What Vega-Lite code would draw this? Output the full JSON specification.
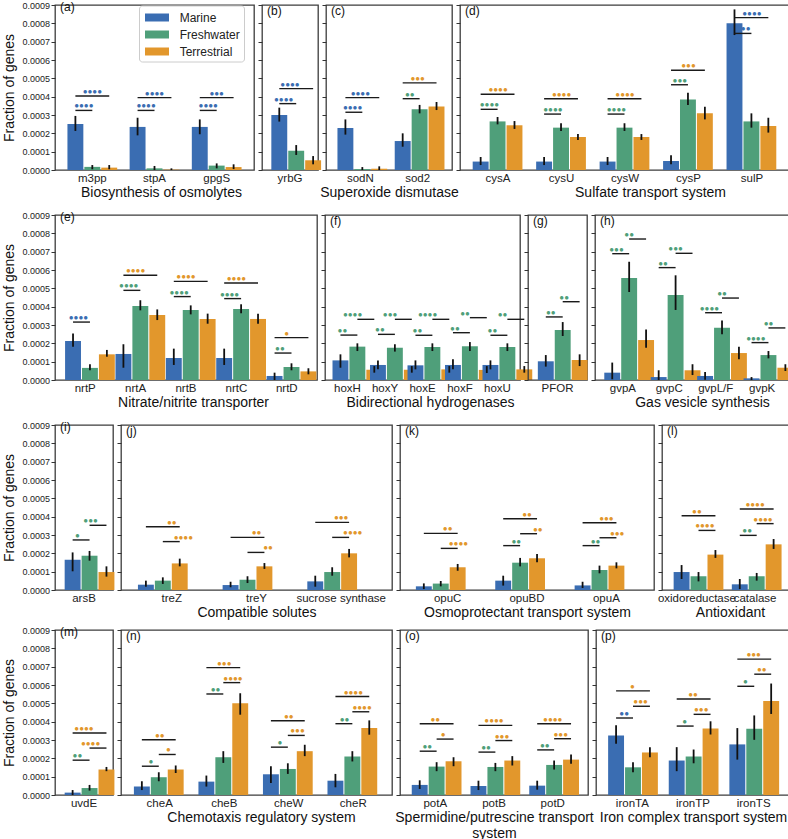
{
"$schema":"https://vega.github.io/schema/vega-lite/v6.json",
"padding":{"left":2,"top":0,"right":1,"bottom":0},
"spacing":5,
"resolve":{"legend":{"color":"independent"}},
"config":{
 "font":"Liberation Sans",
 "view":{"stroke":"#3c3c3c","strokeWidth":1.3},
 "scale":{"bandPaddingInner":0.22,"bandPaddingOuter":0.11,"offsetBandPaddingInner":0.06,"offsetBandPaddingOuter":0},
 "axis":{"grid":false,"domain":false,"labelColor":"#222","titleColor":"#111","titleFontWeight":"normal","tickColor":"#333"},
 "axisX":{"ticks":false,"tickSize":0,"labelAngle":0,"labelFontSize":11.5,"labelPadding":2,"titleFontSize":14,"titlePadding":1.5,"labelOverlap":false,"labelLimit":0},
 "axisY":{"tickCount":10,"tickSize":4,"labelFontSize":9,"labelPadding":1.5,"titleFontSize":14,"titlePadding":5},
 "title":{"anchor":"start","frame":"group","offset":-13,"dx":5,"fontSize":12,"fontWeight":"normal","baseline":"alphabetic","color":"#111"},
 "rule":{"color":"#111","strokeWidth":1.8},
 "line":{"color":"#1a1a1a","strokeWidth":1.4},
 "text":{"font":"Liberation Sans","fontSize":8,"baseline":"bottom"}
},
"datasets":{
"bars":[
{"p":"a","gene":"m3pp","g":"Marine","y":0.000251,"lo":0.000213,"hi":0.000295},
{"p":"a","gene":"m3pp","g":"Freshwater","y":0.000017,"lo":0.000004,"hi":0.000027},
{"p":"a","gene":"m3pp","g":"Terrestrial","y":0.000013,"lo":0.000004,"hi":0.000027},
{"p":"a","gene":"stpA","g":"Marine","y":0.000235,"lo":0.000189,"hi":0.000285},
{"p":"a","gene":"stpA","g":"Freshwater","y":0.000009,"lo":0,"hi":0.000022},
{"p":"a","gene":"stpA","g":"Terrestrial","y":0.000002,"lo":0,"hi":0.000009},
{"p":"a","gene":"gpgS","g":"Marine","y":0.000235,"lo":0.000195,"hi":0.000276},
{"p":"a","gene":"gpgS","g":"Freshwater","y":0.000024,"lo":0.000009,"hi":0.000036},
{"p":"a","gene":"gpgS","g":"Terrestrial","y":0.000016,"lo":0.000005,"hi":0.000031},
{"p":"b","gene":"yrbG","g":"Marine","y":0.000300,"lo":0.000264,"hi":0.000340},
{"p":"b","gene":"yrbG","g":"Freshwater","y":0.000105,"lo":0.000082,"hi":0.000136},
{"p":"b","gene":"yrbG","g":"Terrestrial","y":0.000053,"lo":0.000031,"hi":0.000076},
{"p":"c","gene":"sodN","g":"Marine","y":0.000229,"lo":0.000193,"hi":0.000276},
{"p":"c","gene":"sodN","g":"Freshwater","y":0.000005,"lo":0,"hi":0.000016},
{"p":"c","gene":"sodN","g":"Terrestrial","y":0.000007,"lo":0,"hi":0.000020},
{"p":"c","gene":"sod2","g":"Marine","y":0.000158,"lo":0.000127,"hi":0.000200},
{"p":"c","gene":"sod2","g":"Freshwater","y":0.000331,"lo":0.000309,"hi":0.000355},
{"p":"c","gene":"sod2","g":"Terrestrial","y":0.000347,"lo":0.000327,"hi":0.000371},
{"p":"d","gene":"cysA","g":"Marine","y":0.000046,"lo":0.000027,"hi":0.000071},
{"p":"d","gene":"cysA","g":"Freshwater","y":0.000265,"lo":0.000249,"hi":0.000289},
{"p":"d","gene":"cysA","g":"Terrestrial","y":0.000244,"lo":0.000224,"hi":0.000267},
{"p":"d","gene":"cysU","g":"Marine","y":0.000046,"lo":0.000027,"hi":0.000071},
{"p":"d","gene":"cysU","g":"Freshwater","y":0.000231,"lo":0.000213,"hi":0.000255},
{"p":"d","gene":"cysU","g":"Terrestrial","y":0.000180,"lo":0.000164,"hi":0.000196},
{"p":"d","gene":"cysW","g":"Marine","y":0.000046,"lo":0.000027,"hi":0.000071},
{"p":"d","gene":"cysW","g":"Freshwater","y":0.000231,"lo":0.000213,"hi":0.000255},
{"p":"d","gene":"cysW","g":"Terrestrial","y":0.000180,"lo":0.000164,"hi":0.000196},
{"p":"d","gene":"cysP","g":"Marine","y":0.000049,"lo":0.000031,"hi":0.000080},
{"p":"d","gene":"cysP","g":"Freshwater","y":0.000385,"lo":0.000355,"hi":0.000422},
{"p":"d","gene":"cysP","g":"Terrestrial","y":0.000309,"lo":0.000276,"hi":0.000345},
{"p":"d","gene":"sulP","g":"Marine","y":0.000800,"lo":0.000736,"hi":0.000876},
{"p":"d","gene":"sulP","g":"Freshwater","y":0.000265,"lo":0.000231,"hi":0.000309},
{"p":"d","gene":"sulP","g":"Terrestrial","y":0.000240,"lo":0.000204,"hi":0.000285},
{"p":"e","gene":"nrtP","g":"Marine","y":0.000213,"lo":0.000182,"hi":0.000253},
{"p":"e","gene":"nrtP","g":"Freshwater","y":0.000066,"lo":0.000053,"hi":0.000086},
{"p":"e","gene":"nrtP","g":"Terrestrial","y":0.000140,"lo":0.000127,"hi":0.000164},
{"p":"e","gene":"nrtA","g":"Marine","y":0.000142,"lo":0.000067,"hi":0.000195},
{"p":"e","gene":"nrtA","g":"Freshwater","y":0.000404,"lo":0.000380,"hi":0.000435},
{"p":"e","gene":"nrtA","g":"Terrestrial","y":0.000355,"lo":0.000327,"hi":0.000385},
{"p":"e","gene":"nrtB","g":"Marine","y":0.000120,"lo":0.000082,"hi":0.000171},
{"p":"e","gene":"nrtB","g":"Freshwater","y":0.000382,"lo":0.000358,"hi":0.000407},
{"p":"e","gene":"nrtB","g":"Terrestrial","y":0.000333,"lo":0.000307,"hi":0.000362},
{"p":"e","gene":"nrtC","g":"Marine","y":0.000120,"lo":0.000082,"hi":0.000171},
{"p":"e","gene":"nrtC","g":"Freshwater","y":0.000387,"lo":0.000364,"hi":0.000413},
{"p":"e","gene":"nrtC","g":"Terrestrial","y":0.000333,"lo":0.000307,"hi":0.000362},
{"p":"e","gene":"nrtD","g":"Marine","y":0.000022,"lo":0,"hi":0.000040},
{"p":"e","gene":"nrtD","g":"Freshwater","y":0.000071,"lo":0.000053,"hi":0.000091},
{"p":"e","gene":"nrtD","g":"Terrestrial","y":0.000047,"lo":0.000031,"hi":0.000064},
{"p":"f","gene":"hoxH","g":"Marine","y":0.000107,"lo":0.000067,"hi":0.000140},
{"p":"f","gene":"hoxH","g":"Freshwater","y":0.000182,"lo":0.000158,"hi":0.000200},
{"p":"f","gene":"hoxH","g":"Terrestrial","y":0.000056,"lo":0.000040,"hi":0.000076},
{"p":"f","gene":"hoxY","g":"Marine","y":0.000082,"lo":0.000058,"hi":0.000107},
{"p":"f","gene":"hoxY","g":"Freshwater","y":0.000176,"lo":0.000155,"hi":0.000195},
{"p":"f","gene":"hoxY","g":"Terrestrial","y":0.000056,"lo":0.000040,"hi":0.000076},
{"p":"f","gene":"hoxE","g":"Marine","y":0.000080,"lo":0.000058,"hi":0.000107},
{"p":"f","gene":"hoxE","g":"Freshwater","y":0.000180,"lo":0.000158,"hi":0.000200},
{"p":"f","gene":"hoxE","g":"Terrestrial","y":0.000058,"lo":0.000040,"hi":0.000076},
{"p":"f","gene":"hoxF","g":"Marine","y":0.000082,"lo":0.000058,"hi":0.000113},
{"p":"f","gene":"hoxF","g":"Freshwater","y":0.000184,"lo":0.000158,"hi":0.000207},
{"p":"f","gene":"hoxF","g":"Terrestrial","y":0.000055,"lo":0.000038,"hi":0.000076},
{"p":"f","gene":"hoxU","g":"Marine","y":0.000082,"lo":0.000058,"hi":0.000107},
{"p":"f","gene":"hoxU","g":"Freshwater","y":0.000180,"lo":0.000158,"hi":0.000200},
{"p":"f","gene":"hoxU","g":"Terrestrial","y":0.000058,"lo":0.000040,"hi":0.000076},
{"p":"g","gene":"PFOR","g":"Marine","y":0.000102,"lo":0.000073,"hi":0.000136},
{"p":"g","gene":"PFOR","g":"Freshwater","y":0.000273,"lo":0.000240,"hi":0.000316},
{"p":"g","gene":"PFOR","g":"Terrestrial","y":0.000109,"lo":0.000076,"hi":0.000140},
{"p":"h","gene":"gvpA","g":"Marine","y":0.000040,"lo":0.000004,"hi":0.000095},
{"p":"h","gene":"gvpA","g":"Freshwater","y":0.000556,"lo":0.000480,"hi":0.000645},
{"p":"h","gene":"gvpA","g":"Terrestrial","y":0.000218,"lo":0.000176,"hi":0.000276},
{"p":"h","gene":"gvpC","g":"Marine","y":0.000016,"lo":0,"hi":0.000053},
{"p":"h","gene":"gvpC","g":"Freshwater","y":0.000464,"lo":0.000382,"hi":0.000571},
{"p":"h","gene":"gvpC","g":"Terrestrial","y":0.000053,"lo":0.000027,"hi":0.000086},
{"p":"h","gene":"gvpL/F","g":"Marine","y":0.000022,"lo":0.000002,"hi":0.000044},
{"p":"h","gene":"gvpL/F","g":"Freshwater","y":0.000285,"lo":0.000249,"hi":0.000325},
{"p":"h","gene":"gvpL/F","g":"Terrestrial","y":0.000147,"lo":0.000113,"hi":0.000182},
{"p":"h","gene":"gvpK","g":"Marine","y":0.000009,"lo":0,"hi":0.000016},
{"p":"h","gene":"gvpK","g":"Freshwater","y":0.000136,"lo":0.000118,"hi":0.000158},
{"p":"h","gene":"gvpK","g":"Terrestrial","y":0.000067,"lo":0.000049,"hi":0.000086},
{"p":"i","gene":"arsB","g":"Marine","y":0.000165,"lo":0.000102,"hi":0.000205},
{"p":"i","gene":"arsB","g":"Freshwater","y":0.000187,"lo":0.000160,"hi":0.000213},
{"p":"i","gene":"arsB","g":"Terrestrial","y":0.000098,"lo":0.000073,"hi":0.000129},
{"p":"j","gene":"treZ","g":"Marine","y":0.000029,"lo":0.000018,"hi":0.000051},
{"p":"j","gene":"treZ","g":"Freshwater","y":0.000051,"lo":0.000033,"hi":0.000069},
{"p":"j","gene":"treZ","g":"Terrestrial","y":0.000145,"lo":0.000129,"hi":0.000171},
{"p":"j","gene":"treY","g":"Marine","y":0.000027,"lo":0.000015,"hi":0.000045},
{"p":"j","gene":"treY","g":"Freshwater","y":0.000056,"lo":0.000038,"hi":0.000075},
{"p":"j","gene":"treY","g":"Terrestrial","y":0.000129,"lo":0.000115,"hi":0.000147},
{"p":"j","gene":"sucrose synthase","g":"Marine","y":0.000047,"lo":0.000018,"hi":0.000078},
{"p":"j","gene":"sucrose synthase","g":"Freshwater","y":0.000098,"lo":0.000078,"hi":0.000124},
{"p":"j","gene":"sucrose synthase","g":"Terrestrial","y":0.000200,"lo":0.000178,"hi":0.000224},
{"p":"k","gene":"opuC","g":"Marine","y":0.000020,"lo":0.000005,"hi":0.000036},
{"p":"k","gene":"opuC","g":"Freshwater","y":0.000035,"lo":0.000020,"hi":0.000049},
{"p":"k","gene":"opuC","g":"Terrestrial","y":0.000124,"lo":0.000105,"hi":0.000142},
{"p":"k","gene":"opuBD","g":"Marine","y":0.000051,"lo":0.000024,"hi":0.000078},
{"p":"k","gene":"opuBD","g":"Freshwater","y":0.000149,"lo":0.000129,"hi":0.000175},
{"p":"k","gene":"opuBD","g":"Terrestrial","y":0.000173,"lo":0.000151,"hi":0.000196},
{"p":"k","gene":"opuA","g":"Marine","y":0.000025,"lo":0.000011,"hi":0.000045},
{"p":"k","gene":"opuA","g":"Freshwater","y":0.000109,"lo":0.000091,"hi":0.000133},
{"p":"k","gene":"opuA","g":"Terrestrial","y":0.000133,"lo":0.000118,"hi":0.000151},
{"p":"l","gene":"oxidoreductase","g":"Marine","y":0.000098,"lo":0.000060,"hi":0.000136},
{"p":"l","gene":"oxidoreductase","g":"Freshwater","y":0.000075,"lo":0.000047,"hi":0.000098},
{"p":"l","gene":"oxidoreductase","g":"Terrestrial","y":0.000193,"lo":0.000175,"hi":0.000218},
{"p":"l","gene":"catalase","g":"Marine","y":0.000031,"lo":0.000005,"hi":0.000060},
{"p":"l","gene":"catalase","g":"Freshwater","y":0.000075,"lo":0.000051,"hi":0.000093},
{"p":"l","gene":"catalase","g":"Terrestrial","y":0.000249,"lo":0.000224,"hi":0.000278},
{"p":"m","gene":"uvdE","g":"Marine","y":0.000013,"lo":0,"hi":0.000027},
{"p":"m","gene":"uvdE","g":"Freshwater","y":0.000038,"lo":0.000024,"hi":0.000055},
{"p":"m","gene":"uvdE","g":"Terrestrial","y":0.000139,"lo":0.000130,"hi":0.000153},
{"p":"n","gene":"cheA","g":"Marine","y":0.000047,"lo":0.000027,"hi":0.000075},
{"p":"n","gene":"cheA","g":"Freshwater","y":0.000097,"lo":0.000075,"hi":0.000124},
{"p":"n","gene":"cheA","g":"Terrestrial","y":0.000139,"lo":0.000120,"hi":0.000161},
{"p":"n","gene":"cheB","g":"Marine","y":0.000073,"lo":0.000046,"hi":0.000106},
{"p":"n","gene":"cheB","g":"Freshwater","y":0.000206,"lo":0.000175,"hi":0.000239},
{"p":"n","gene":"cheB","g":"Terrestrial","y":0.000500,"lo":0.000438,"hi":0.000555},
{"p":"n","gene":"cheW","g":"Marine","y":0.000113,"lo":0.000066,"hi":0.000157},
{"p":"n","gene":"cheW","g":"Freshwater","y":0.000142,"lo":0.000115,"hi":0.000173},
{"p":"n","gene":"cheW","g":"Terrestrial","y":0.000239,"lo":0.000212,"hi":0.000274},
{"p":"n","gene":"cheR","g":"Marine","y":0.000078,"lo":0.000042,"hi":0.000115},
{"p":"n","gene":"cheR","g":"Freshwater","y":0.000210,"lo":0.000183,"hi":0.000239},
{"p":"n","gene":"cheR","g":"Terrestrial","y":0.000365,"lo":0.000329,"hi":0.000407},
{"p":"o","gene":"potA","g":"Marine","y":0.000055,"lo":0.000033,"hi":0.000080},
{"p":"o","gene":"potA","g":"Freshwater","y":0.000155,"lo":0.000130,"hi":0.000179},
{"p":"o","gene":"potA","g":"Terrestrial","y":0.000184,"lo":0.000157,"hi":0.000206},
{"p":"o","gene":"potB","g":"Marine","y":0.000049,"lo":0.000027,"hi":0.000078},
{"p":"o","gene":"potB","g":"Freshwater","y":0.000153,"lo":0.000130,"hi":0.000175},
{"p":"o","gene":"potB","g":"Terrestrial","y":0.000188,"lo":0.000161,"hi":0.000212},
{"p":"o","gene":"potD","g":"Marine","y":0.000051,"lo":0.000029,"hi":0.000078},
{"p":"o","gene":"potD","g":"Freshwater","y":0.000164,"lo":0.000139,"hi":0.000188},
{"p":"o","gene":"potD","g":"Terrestrial","y":0.000193,"lo":0.000170,"hi":0.000221},
{"p":"p","gene":"ironTA","g":"Marine","y":0.000325,"lo":0.000279,"hi":0.000380},
{"p":"p","gene":"ironTA","g":"Freshwater","y":0.000151,"lo":0.000124,"hi":0.000179},
{"p":"p","gene":"ironTA","g":"Terrestrial","y":0.000232,"lo":0.000206,"hi":0.000261},
{"p":"p","gene":"ironTP","g":"Marine","y":0.000188,"lo":0.000130,"hi":0.000261},
{"p":"p","gene":"ironTP","g":"Freshwater","y":0.000210,"lo":0.000173,"hi":0.000248},
{"p":"p","gene":"ironTP","g":"Terrestrial","y":0.000363,"lo":0.000330,"hi":0.000402},
{"p":"p","gene":"ironTS","g":"Marine","y":0.000276,"lo":0.000193,"hi":0.000365},
{"p":"p","gene":"ironTS","g":"Freshwater","y":0.000361,"lo":0.000301,"hi":0.000434},
{"p":"p","gene":"ironTS","g":"Terrestrial","y":0.000513,"lo":0.000442,"hi":0.000608}
],
"sig":[
{"p":"a","gene":"m3pp","a":"Marine","b":"Freshwater","y":0.000325,"n":"●●●●","c":"Marine"},
{"p":"a","gene":"m3pp","a":"Marine","b":"Terrestrial","y":0.000404,"n":"●●●●","c":"Marine"},
{"p":"a","gene":"stpA","a":"Marine","b":"Freshwater","y":0.000325,"n":"●●●●","c":"Marine"},
{"p":"a","gene":"stpA","a":"Marine","b":"Terrestrial","y":0.000395,"n":"●●●●","c":"Marine"},
{"p":"a","gene":"gpgS","a":"Marine","b":"Freshwater","y":0.000325,"n":"●●●●","c":"Marine"},
{"p":"a","gene":"gpgS","a":"Marine","b":"Terrestrial","y":0.000395,"n":"●●●","c":"Marine"},
{"p":"b","gene":"yrbG","a":"Marine","b":"Freshwater","y":0.000362,"n":"●●●●","c":"Marine"},
{"p":"b","gene":"yrbG","a":"Marine","b":"Terrestrial","y":0.000444,"n":"●●●●","c":"Marine"},
{"p":"c","gene":"sodN","a":"Marine","b":"Freshwater","y":0.000315,"n":"●●●●","c":"Marine"},
{"p":"c","gene":"sodN","a":"Marine","b":"Terrestrial","y":0.000395,"n":"●●●●","c":"Marine"},
{"p":"c","gene":"sod2","a":"Marine","b":"Freshwater","y":0.000389,"n":"●●","c":"Freshwater"},
{"p":"c","gene":"sod2","a":"Marine","b":"Terrestrial","y":0.000475,"n":"●●●","c":"Terrestrial"},
{"p":"d","gene":"cysA","a":"Marine","b":"Freshwater","y":0.000331,"n":"●●●●","c":"Freshwater"},
{"p":"d","gene":"cysA","a":"Marine","b":"Terrestrial","y":0.000413,"n":"●●●●","c":"Terrestrial"},
{"p":"d","gene":"cysU","a":"Marine","b":"Freshwater","y":0.000305,"n":"●●●●","c":"Freshwater"},
{"p":"d","gene":"cysU","a":"Marine","b":"Terrestrial","y":0.000389,"n":"●●●●","c":"Terrestrial"},
{"p":"d","gene":"cysW","a":"Marine","b":"Freshwater","y":0.000305,"n":"●●●●","c":"Freshwater"},
{"p":"d","gene":"cysW","a":"Marine","b":"Terrestrial","y":0.000389,"n":"●●●●","c":"Terrestrial"},
{"p":"d","gene":"cysP","a":"Marine","b":"Freshwater","y":0.000465,"n":"●●●","c":"Freshwater"},
{"p":"d","gene":"cysP","a":"Marine","b":"Terrestrial","y":0.000544,"n":"●●●","c":"Terrestrial"},
{"p":"d","gene":"sulP","a":"Marine","b":"Freshwater","y":0.000745,"n":"●●●","c":"Marine"},
{"p":"d","gene":"sulP","a":"Marine","b":"Terrestrial","y":0.000831,"n":"●●●●","c":"Marine"},
{"p":"e","gene":"nrtP","a":"Marine","b":"Freshwater","y":0.000316,"n":"●●●●","c":"Marine"},
{"p":"e","gene":"nrtA","a":"Marine","b":"Freshwater","y":0.000489,"n":"●●●●","c":"Freshwater"},
{"p":"e","gene":"nrtA","a":"Marine","b":"Terrestrial","y":0.000571,"n":"●●●●","c":"Terrestrial"},
{"p":"e","gene":"nrtB","a":"Marine","b":"Freshwater","y":0.000455,"n":"●●●●","c":"Freshwater"},
{"p":"e","gene":"nrtB","a":"Marine","b":"Terrestrial","y":0.000538,"n":"●●●●","c":"Terrestrial"},
{"p":"e","gene":"nrtC","a":"Marine","b":"Freshwater","y":0.000444,"n":"●●●●","c":"Freshwater"},
{"p":"e","gene":"nrtC","a":"Marine","b":"Terrestrial","y":0.000529,"n":"●●●●","c":"Terrestrial"},
{"p":"e","gene":"nrtD","a":"Marine","b":"Freshwater","y":0.000147,"n":"●●","c":"Freshwater"},
{"p":"e","gene":"nrtD","a":"Marine","b":"Terrestrial","y":0.000231,"n":"●","c":"Terrestrial"},
{"p":"f","gene":"hoxH","a":"Marine","b":"Freshwater","y":0.000245,"n":"●●","c":"Freshwater"},
{"p":"f","gene":"hoxH","a":"Freshwater","b":"Terrestrial","y":0.000331,"n":"●●●●","c":"Freshwater"},
{"p":"f","gene":"hoxY","a":"Marine","b":"Freshwater","y":0.000249,"n":"●●","c":"Freshwater"},
{"p":"f","gene":"hoxY","a":"Freshwater","b":"Terrestrial","y":0.000331,"n":"●●●","c":"Freshwater"},
{"p":"f","gene":"hoxE","a":"Marine","b":"Freshwater","y":0.000244,"n":"●●","c":"Freshwater"},
{"p":"f","gene":"hoxE","a":"Freshwater","b":"Terrestrial","y":0.000331,"n":"●●●●","c":"Freshwater"},
{"p":"f","gene":"hoxF","a":"Marine","b":"Freshwater","y":0.000258,"n":"●●","c":"Freshwater"},
{"p":"f","gene":"hoxF","a":"Freshwater","b":"Terrestrial","y":0.000340,"n":"●●","c":"Freshwater"},
{"p":"f","gene":"hoxU","a":"Marine","b":"Freshwater","y":0.000244,"n":"●●","c":"Freshwater"},
{"p":"f","gene":"hoxU","a":"Freshwater","b":"Terrestrial","y":0.000331,"n":"●●","c":"Freshwater"},
{"p":"g","gene":"PFOR","a":"Marine","b":"Freshwater","y":0.000344,"n":"●●","c":"Freshwater"},
{"p":"g","gene":"PFOR","a":"Freshwater","b":"Terrestrial","y":0.000427,"n":"●●","c":"Freshwater"},
{"p":"h","gene":"gvpA","a":"Marine","b":"Freshwater","y":0.000689,"n":"●●●","c":"Freshwater"},
{"p":"h","gene":"gvpA","a":"Freshwater","b":"Terrestrial","y":0.000769,"n":"●●","c":"Freshwater"},
{"p":"h","gene":"gvpC","a":"Marine","b":"Freshwater","y":0.000613,"n":"●●","c":"Freshwater"},
{"p":"h","gene":"gvpC","a":"Freshwater","b":"Terrestrial","y":0.000691,"n":"●●●","c":"Freshwater"},
{"p":"h","gene":"gvpL/F","a":"Marine","b":"Freshwater","y":0.000367,"n":"●●●●","c":"Freshwater"},
{"p":"h","gene":"gvpL/F","a":"Freshwater","b":"Terrestrial","y":0.000447,"n":"●●","c":"Freshwater"},
{"p":"h","gene":"gvpK","a":"Marine","b":"Freshwater","y":0.000204,"n":"●●●●","c":"Freshwater"},
{"p":"h","gene":"gvpK","a":"Freshwater","b":"Terrestrial","y":0.000284,"n":"●●","c":"Freshwater"},
{"p":"i","gene":"arsB","a":"Marine","b":"Freshwater","y":0.000273,"n":"●","c":"Freshwater"},
{"p":"i","gene":"arsB","a":"Freshwater","b":"Terrestrial","y":0.000353,"n":"●●●","c":"Freshwater"},
{"p":"j","gene":"treZ","a":"Marine","b":"Terrestrial","y":0.000345,"n":"●●","c":"Terrestrial"},
{"p":"j","gene":"treZ","a":"Freshwater","b":"Terrestrial","y":0.000264,"n":"●●●●","c":"Terrestrial"},
{"p":"j","gene":"treY","a":"Marine","b":"Terrestrial","y":0.000287,"n":"●●","c":"Terrestrial"},
{"p":"j","gene":"treY","a":"Freshwater","b":"Terrestrial","y":0.000205,"n":"●●","c":"Terrestrial"},
{"p":"j","gene":"sucrose synthase","a":"Marine","b":"Terrestrial","y":0.000369,"n":"●●●","c":"Terrestrial"},
{"p":"j","gene":"sucrose synthase","a":"Freshwater","b":"Terrestrial","y":0.000287,"n":"●●●●","c":"Terrestrial"},
{"p":"k","gene":"opuC","a":"Marine","b":"Terrestrial","y":0.000309,"n":"●●","c":"Terrestrial"},
{"p":"k","gene":"opuC","a":"Freshwater","b":"Terrestrial","y":0.000227,"n":"●●●●","c":"Terrestrial"},
{"p":"k","gene":"opuBD","a":"Marine","b":"Freshwater","y":0.000242,"n":"●●","c":"Freshwater"},
{"p":"k","gene":"opuBD","a":"Marine","b":"Terrestrial","y":0.000389,"n":"●●","c":"Terrestrial"},
{"p":"k","gene":"opuBD","a":"Freshwater","b":"Terrestrial","y":0.000307,"n":"●●","c":"Terrestrial"},
{"p":"k","gene":"opuA","a":"Marine","b":"Freshwater","y":0.000242,"n":"●●","c":"Freshwater"},
{"p":"k","gene":"opuA","a":"Marine","b":"Terrestrial","y":0.000367,"n":"●●●","c":"Terrestrial"},
{"p":"k","gene":"opuA","a":"Freshwater","b":"Terrestrial","y":0.000285,"n":"●●●","c":"Terrestrial"},
{"p":"l","gene":"oxidoreductase","a":"Marine","b":"Terrestrial","y":0.000405,"n":"●●","c":"Terrestrial"},
{"p":"l","gene":"oxidoreductase","a":"Freshwater","b":"Terrestrial","y":0.000325,"n":"●●●●","c":"Terrestrial"},
{"p":"l","gene":"catalase","a":"Marine","b":"Freshwater","y":0.000298,"n":"●●","c":"Freshwater"},
{"p":"l","gene":"catalase","a":"Marine","b":"Terrestrial","y":0.000442,"n":"●●●●","c":"Terrestrial"},
{"p":"l","gene":"catalase","a":"Freshwater","b":"Terrestrial","y":0.000362,"n":"●●●●","c":"Terrestrial"},
{"p":"m","gene":"uvdE","a":"Marine","b":"Freshwater","y":0.000190,"n":"●●","c":"Freshwater"},
{"p":"m","gene":"uvdE","a":"Marine","b":"Terrestrial","y":0.000338,"n":"●●●●","c":"Terrestrial"},
{"p":"m","gene":"uvdE","a":"Freshwater","b":"Terrestrial","y":0.000256,"n":"●●●●","c":"Terrestrial"},
{"p":"n","gene":"cheA","a":"Marine","b":"Freshwater","y":0.000157,"n":"●","c":"Freshwater"},
{"p":"n","gene":"cheA","a":"Marine","b":"Terrestrial","y":0.000301,"n":"●●","c":"Terrestrial"},
{"p":"n","gene":"cheA","a":"Freshwater","b":"Terrestrial","y":0.000221,"n":"●","c":"Terrestrial"},
{"p":"n","gene":"cheB","a":"Marine","b":"Freshwater","y":0.000551,"n":"●●","c":"Freshwater"},
{"p":"n","gene":"cheB","a":"Marine","b":"Terrestrial","y":0.000695,"n":"●●●","c":"Terrestrial"},
{"p":"n","gene":"cheB","a":"Freshwater","b":"Terrestrial","y":0.000613,"n":"●●●●","c":"Terrestrial"},
{"p":"n","gene":"cheW","a":"Marine","b":"Freshwater","y":0.000261,"n":"●","c":"Freshwater"},
{"p":"n","gene":"cheW","a":"Marine","b":"Terrestrial","y":0.000405,"n":"●●","c":"Terrestrial"},
{"p":"n","gene":"cheW","a":"Freshwater","b":"Terrestrial","y":0.000325,"n":"●●●","c":"Terrestrial"},
{"p":"n","gene":"cheR","a":"Marine","b":"Freshwater","y":0.000389,"n":"●●","c":"Freshwater"},
{"p":"n","gene":"cheR","a":"Marine","b":"Terrestrial","y":0.000537,"n":"●●●●","c":"Terrestrial"},
{"p":"n","gene":"cheR","a":"Freshwater","b":"Terrestrial","y":0.000454,"n":"●●●●","c":"Terrestrial"},
{"p":"o","gene":"potA","a":"Marine","b":"Freshwater","y":0.000239,"n":"●●","c":"Freshwater"},
{"p":"o","gene":"potA","a":"Marine","b":"Terrestrial","y":0.000389,"n":"●●","c":"Terrestrial"},
{"p":"o","gene":"potA","a":"Freshwater","b":"Terrestrial","y":0.000305,"n":"●","c":"Terrestrial"},
{"p":"o","gene":"potB","a":"Marine","b":"Freshwater","y":0.000234,"n":"●●","c":"Freshwater"},
{"p":"o","gene":"potB","a":"Marine","b":"Terrestrial","y":0.000380,"n":"●●●●","c":"Terrestrial"},
{"p":"o","gene":"potB","a":"Freshwater","b":"Terrestrial","y":0.000297,"n":"●●●","c":"Terrestrial"},
{"p":"o","gene":"potD","a":"Marine","b":"Freshwater","y":0.000246,"n":"●●","c":"Freshwater"},
{"p":"o","gene":"potD","a":"Marine","b":"Terrestrial","y":0.000389,"n":"●●●●","c":"Terrestrial"},
{"p":"o","gene":"potD","a":"Freshwater","b":"Terrestrial","y":0.000307,"n":"●●●","c":"Terrestrial"},
{"p":"p","gene":"ironTA","a":"Marine","b":"Freshwater","y":0.000420,"n":"●●","c":"Marine"},
{"p":"p","gene":"ironTA","a":"Marine","b":"Terrestrial","y":0.000568,"n":"●","c":"Terrestrial"},
{"p":"p","gene":"ironTA","a":"Freshwater","b":"Terrestrial","y":0.000484,"n":"●●●","c":"Terrestrial"},
{"p":"p","gene":"ironTP","a":"Marine","b":"Freshwater","y":0.000376,"n":"●","c":"Freshwater"},
{"p":"p","gene":"ironTP","a":"Marine","b":"Terrestrial","y":0.000524,"n":"●●","c":"Terrestrial"},
{"p":"p","gene":"ironTP","a":"Freshwater","b":"Terrestrial","y":0.000440,"n":"●●●","c":"Terrestrial"},
{"p":"p","gene":"ironTS","a":"Marine","b":"Freshwater","y":0.000593,"n":"●","c":"Freshwater"},
{"p":"p","gene":"ironTS","a":"Marine","b":"Terrestrial","y":0.000741,"n":"●●●","c":"Terrestrial"},
{"p":"p","gene":"ironTS","a":"Freshwater","b":"Terrestrial","y":0.000659,"n":"●●","c":"Terrestrial"}
]
},
"vconcat":[
{"vconcat":[
{"hconcat":[
{"width":199,"height":165,"title":{"text":"(a)"},
 "encoding":{"x":{"field":"gene","type":"nominal","scale":{"domain":["m3pp","stpA","gpgS"]},"axis":{"title":"Biosynthesis of osmolytes","titleX":106}},
  "y":{"field":"y","type":"quantitative","scale":{"domain":[0,0.0009],"nice":false},"axis":{"title":"Fraction of genes","format":".4f"}}},
 "layer":[
  {"data":{"name":"bars"},"transform":[{"filter":"datum.p=='a'"}],"layer":[
   {"mark":"bar","encoding":{"xOffset":{"field":"g","type":"nominal","scale":{"domain":["Marine","Freshwater","Terrestrial"]}},"color":{"field":"g","type":"nominal","scale":{"domain":["Marine","Freshwater","Terrestrial"],"range":["#3a6db2","#4f9f7a","#e2972c"]},"legend":{"orient":"none","legendX":84,"legendY":0.5,"title":null,"symbolType":"M-1.5,-0.5H1.5V0.5H-1.5Z","symbolSize":256,"symbolStrokeWidth":0,"symbolOffset":6,"labelOffset":14.7,"labelFontSize":12,"labelColor":"#222","padding":4,"rowPadding":3,"strokeColor":"#cccccc","fillColor":"#ffffff","cornerRadius":3}}}},
   {"mark":"rule","encoding":{"xOffset":{"field":"g","type":"nominal","scale":{"domain":["Marine","Freshwater","Terrestrial"]}},"y":{"field":"lo","type":"quantitative","scale":{"domain":[0,0.0009],"nice":false},"axis":{"title":"Fraction of genes","format":".4f"}},"y2":{"field":"hi"}}}
  ]},
  {"data":{"name":"sig"},"transform":[{"filter":"datum.p=='a'"}],"layer":[
   {"transform":[{"fold":["a","b"],"as":["end","grp"]}],"mark":"line","encoding":{"xOffset":{"field":"grp","type":"nominal","scale":{"domain":["Marine","Freshwater","Terrestrial"]}},"detail":[{"field":"gene"},{"field":"a"},{"field":"b"}]}},
   {"transform":[{"filter":"datum.b=='Freshwater'"}],"mark":"text","encoding":{"x":{"field":"gene","type":"nominal","bandPosition":0.33,"scale":{"domain":["m3pp","stpA","gpgS"]},"axis":{"title":"Biosynthesis of osmolytes","titleX":106}},"text":{"field":"n"},"color":{"field":"c","type":"nominal","scale":{"domain":["Marine","Freshwater","Terrestrial"],"range":["#3a6db2","#4f9f7a","#e2972c"]},"legend":null}}},
   {"transform":[{"filter":"datum.a=='Freshwater'"}],"mark":"text","encoding":{"x":{"field":"gene","type":"nominal","bandPosition":0.67,"scale":{"domain":["m3pp","stpA","gpgS"]},"axis":{"title":"Biosynthesis of osmolytes","titleX":106}},"text":{"field":"n"},"color":{"field":"c","type":"nominal","scale":{"domain":["Marine","Freshwater","Terrestrial"],"range":["#3a6db2","#4f9f7a","#e2972c"]},"legend":null}}},
   {"transform":[{"filter":"datum.a=='Marine' && datum.b=='Terrestrial'"}],"mark":"text","encoding":{"text":{"field":"n"},"color":{"field":"c","type":"nominal","scale":{"domain":["Marine","Freshwater","Terrestrial"],"range":["#3a6db2","#4f9f7a","#e2972c"]},"legend":null}}}
  ]}
 ]},
{"width":56,"height":165,"title":{"text":"(b)"},
 "encoding":{"x":{"field":"gene","type":"nominal","scale":{"domain":["yrbG"]},"axis":{"title":null}},
  "y":{"field":"y","type":"quantitative","scale":{"domain":[0,0.0009],"nice":false},"axis":{"title":null,"labels":false}}},
 "layer":[
  {"data":{"name":"bars"},"transform":[{"filter":"datum.p=='b'"}],"layer":[
   {"mark":"bar","encoding":{"xOffset":{"field":"g","type":"nominal","scale":{"domain":["Marine","Freshwater","Terrestrial"]}},"color":{"field":"g","type":"nominal","scale":{"domain":["Marine","Freshwater","Terrestrial"],"range":["#3a6db2","#4f9f7a","#e2972c"]},"legend":null}}},
   {"mark":"rule","encoding":{"xOffset":{"field":"g","type":"nominal","scale":{"domain":["Marine","Freshwater","Terrestrial"]}},"y":{"field":"lo","type":"quantitative","scale":{"domain":[0,0.0009],"nice":false},"axis":{"title":null,"labels":false}},"y2":{"field":"hi"}}}
  ]},
  {"data":{"name":"sig"},"transform":[{"filter":"datum.p=='b'"}],"layer":[
   {"transform":[{"fold":["a","b"],"as":["end","grp"]}],"mark":"line","encoding":{"xOffset":{"field":"grp","type":"nominal","scale":{"domain":["Marine","Freshwater","Terrestrial"]}},"detail":[{"field":"gene"},{"field":"a"},{"field":"b"}]}},
   {"transform":[{"filter":"datum.b=='Freshwater'"}],"mark":"text","encoding":{"x":{"field":"gene","type":"nominal","bandPosition":0.33,"scale":{"domain":["yrbG"]},"axis":{"title":null}},"text":{"field":"n"},"color":{"field":"c","type":"nominal","scale":{"domain":["Marine","Freshwater","Terrestrial"],"range":["#3a6db2","#4f9f7a","#e2972c"]},"legend":null}}},
   {"transform":[{"filter":"datum.a=='Freshwater'"}],"mark":"text","encoding":{"x":{"field":"gene","type":"nominal","bandPosition":0.67,"scale":{"domain":["yrbG"]},"axis":{"title":null}},"text":{"field":"n"},"color":{"field":"c","type":"nominal","scale":{"domain":["Marine","Freshwater","Terrestrial"],"range":["#3a6db2","#4f9f7a","#e2972c"]},"legend":null}}},
   {"transform":[{"filter":"datum.a=='Marine' && datum.b=='Terrestrial'"}],"mark":"text","encoding":{"text":{"field":"n"},"color":{"field":"c","type":"nominal","scale":{"domain":["Marine","Freshwater","Terrestrial"],"range":["#3a6db2","#4f9f7a","#e2972c"]},"legend":null}}}
  ]}
 ]},
{"width":126,"height":165,"title":{"text":"(c)"},
 "encoding":{"x":{"field":"gene","type":"nominal","scale":{"domain":["sodN","sod2"]},"axis":{"title":"Superoxide dismutase"}},
  "y":{"field":"y","type":"quantitative","scale":{"domain":[0,0.0009],"nice":false},"axis":{"title":null,"labels":false}}},
 "layer":[
  {"data":{"name":"bars"},"transform":[{"filter":"datum.p=='c'"}],"layer":[
   {"mark":"bar","encoding":{"xOffset":{"field":"g","type":"nominal","scale":{"domain":["Marine","Freshwater","Terrestrial"]}},"color":{"field":"g","type":"nominal","scale":{"domain":["Marine","Freshwater","Terrestrial"],"range":["#3a6db2","#4f9f7a","#e2972c"]},"legend":null}}},
   {"mark":"rule","encoding":{"xOffset":{"field":"g","type":"nominal","scale":{"domain":["Marine","Freshwater","Terrestrial"]}},"y":{"field":"lo","type":"quantitative","scale":{"domain":[0,0.0009],"nice":false},"axis":{"title":null,"labels":false}},"y2":{"field":"hi"}}}
  ]},
  {"data":{"name":"sig"},"transform":[{"filter":"datum.p=='c'"}],"layer":[
   {"transform":[{"fold":["a","b"],"as":["end","grp"]}],"mark":"line","encoding":{"xOffset":{"field":"grp","type":"nominal","scale":{"domain":["Marine","Freshwater","Terrestrial"]}},"detail":[{"field":"gene"},{"field":"a"},{"field":"b"}]}},
   {"transform":[{"filter":"datum.b=='Freshwater'"}],"mark":"text","encoding":{"x":{"field":"gene","type":"nominal","bandPosition":0.33,"scale":{"domain":["sodN","sod2"]},"axis":{"title":"Superoxide dismutase"}},"text":{"field":"n"},"color":{"field":"c","type":"nominal","scale":{"domain":["Marine","Freshwater","Terrestrial"],"range":["#3a6db2","#4f9f7a","#e2972c"]},"legend":null}}},
   {"transform":[{"filter":"datum.a=='Freshwater'"}],"mark":"text","encoding":{"x":{"field":"gene","type":"nominal","bandPosition":0.67,"scale":{"domain":["sodN","sod2"]},"axis":{"title":"Superoxide dismutase"}},"text":{"field":"n"},"color":{"field":"c","type":"nominal","scale":{"domain":["Marine","Freshwater","Terrestrial"],"range":["#3a6db2","#4f9f7a","#e2972c"]},"legend":null}}},
   {"transform":[{"filter":"datum.a=='Marine' && datum.b=='Terrestrial'"}],"mark":"text","encoding":{"text":{"field":"n"},"color":{"field":"c","type":"nominal","scale":{"domain":["Marine","Freshwater","Terrestrial"],"range":["#3a6db2","#4f9f7a","#e2972c"]},"legend":null}}}
  ]}
 ]},
{"width":330,"height":165,"title":{"text":"(d)"},
 "encoding":{"x":{"field":"gene","type":"nominal","scale":{"domain":["cysA","cysU","cysW","cysP","sulP"]},"axis":{"title":"Sulfate transport system","titleX":190}},
  "y":{"field":"y","type":"quantitative","scale":{"domain":[0,0.0009],"nice":false},"axis":{"title":null,"labels":false}}},
 "layer":[
  {"data":{"name":"bars"},"transform":[{"filter":"datum.p=='d'"}],"layer":[
   {"mark":"bar","encoding":{"xOffset":{"field":"g","type":"nominal","scale":{"domain":["Marine","Freshwater","Terrestrial"]}},"color":{"field":"g","type":"nominal","scale":{"domain":["Marine","Freshwater","Terrestrial"],"range":["#3a6db2","#4f9f7a","#e2972c"]},"legend":null}}},
   {"mark":"rule","encoding":{"xOffset":{"field":"g","type":"nominal","scale":{"domain":["Marine","Freshwater","Terrestrial"]}},"y":{"field":"lo","type":"quantitative","scale":{"domain":[0,0.0009],"nice":false},"axis":{"title":null,"labels":false}},"y2":{"field":"hi"}}}
  ]},
  {"data":{"name":"sig"},"transform":[{"filter":"datum.p=='d'"}],"layer":[
   {"transform":[{"fold":["a","b"],"as":["end","grp"]}],"mark":"line","encoding":{"xOffset":{"field":"grp","type":"nominal","scale":{"domain":["Marine","Freshwater","Terrestrial"]}},"detail":[{"field":"gene"},{"field":"a"},{"field":"b"}]}},
   {"transform":[{"filter":"datum.b=='Freshwater'"}],"mark":"text","encoding":{"x":{"field":"gene","type":"nominal","bandPosition":0.33,"scale":{"domain":["cysA","cysU","cysW","cysP","sulP"]},"axis":{"title":"Sulfate transport system","titleX":190}},"text":{"field":"n"},"color":{"field":"c","type":"nominal","scale":{"domain":["Marine","Freshwater","Terrestrial"],"range":["#3a6db2","#4f9f7a","#e2972c"]},"legend":null}}},
   {"transform":[{"filter":"datum.a=='Freshwater'"}],"mark":"text","encoding":{"x":{"field":"gene","type":"nominal","bandPosition":0.67,"scale":{"domain":["cysA","cysU","cysW","cysP","sulP"]},"axis":{"title":"Sulfate transport system","titleX":190}},"text":{"field":"n"},"color":{"field":"c","type":"nominal","scale":{"domain":["Marine","Freshwater","Terrestrial"],"range":["#3a6db2","#4f9f7a","#e2972c"]},"legend":null}}},
   {"transform":[{"filter":"datum.a=='Marine' && datum.b=='Terrestrial'"}],"mark":"text","encoding":{"text":{"field":"n"},"color":{"field":"c","type":"nominal","scale":{"domain":["Marine","Freshwater","Terrestrial"],"range":["#3a6db2","#4f9f7a","#e2972c"]},"legend":null}}}
  ]}
 ]}
],"spacing":8,"bounds":"flush","resolve":{"legend":{"color":"independent"}}},
{"hconcat":[
{"width":262,"height":165,"title":{"text":"(e)"},
 "encoding":{"x":{"field":"gene","type":"nominal","scale":{"domain":["nrtP","nrtA","nrtB","nrtC","nrtD"]},"axis":{"title":"Nitrate/nitrite transporter","titleX":138}},
  "y":{"field":"y","type":"quantitative","scale":{"domain":[0,0.0009],"nice":false},"axis":{"title":"Fraction of genes","format":".4f"}}},
 "layer":[
  {"data":{"name":"bars"},"transform":[{"filter":"datum.p=='e'"}],"layer":[
   {"mark":"bar","encoding":{"xOffset":{"field":"g","type":"nominal","scale":{"domain":["Marine","Freshwater","Terrestrial"]}},"color":{"field":"g","type":"nominal","scale":{"domain":["Marine","Freshwater","Terrestrial"],"range":["#3a6db2","#4f9f7a","#e2972c"]},"legend":null}}},
   {"mark":"rule","encoding":{"xOffset":{"field":"g","type":"nominal","scale":{"domain":["Marine","Freshwater","Terrestrial"]}},"y":{"field":"lo","type":"quantitative","scale":{"domain":[0,0.0009],"nice":false},"axis":{"title":"Fraction of genes","format":".4f"}},"y2":{"field":"hi"}}}
  ]},
  {"data":{"name":"sig"},"transform":[{"filter":"datum.p=='e'"}],"layer":[
   {"transform":[{"fold":["a","b"],"as":["end","grp"]}],"mark":"line","encoding":{"xOffset":{"field":"grp","type":"nominal","scale":{"domain":["Marine","Freshwater","Terrestrial"]}},"detail":[{"field":"gene"},{"field":"a"},{"field":"b"}]}},
   {"transform":[{"filter":"datum.b=='Freshwater'"}],"mark":"text","encoding":{"x":{"field":"gene","type":"nominal","bandPosition":0.33,"scale":{"domain":["nrtP","nrtA","nrtB","nrtC","nrtD"]},"axis":{"title":"Nitrate/nitrite transporter","titleX":138}},"text":{"field":"n"},"color":{"field":"c","type":"nominal","scale":{"domain":["Marine","Freshwater","Terrestrial"],"range":["#3a6db2","#4f9f7a","#e2972c"]},"legend":null}}},
   {"transform":[{"filter":"datum.a=='Freshwater'"}],"mark":"text","encoding":{"x":{"field":"gene","type":"nominal","bandPosition":0.67,"scale":{"domain":["nrtP","nrtA","nrtB","nrtC","nrtD"]},"axis":{"title":"Nitrate/nitrite transporter","titleX":138}},"text":{"field":"n"},"color":{"field":"c","type":"nominal","scale":{"domain":["Marine","Freshwater","Terrestrial"],"range":["#3a6db2","#4f9f7a","#e2972c"]},"legend":null}}},
   {"transform":[{"filter":"datum.a=='Marine' && datum.b=='Terrestrial'"}],"mark":"text","encoding":{"text":{"field":"n"},"color":{"field":"c","type":"nominal","scale":{"domain":["Marine","Freshwater","Terrestrial"],"range":["#3a6db2","#4f9f7a","#e2972c"]},"legend":null}}}
  ]}
 ]},
{"width":195,"height":165,"title":{"text":"(f)"},
 "encoding":{"x":{"field":"gene","type":"nominal","scale":{"domain":["hoxH","hoxY","hoxE","hoxF","hoxU"]},"axis":{"title":"Bidirectional hydrogenases","titleX":105}},
  "y":{"field":"y","type":"quantitative","scale":{"domain":[0,0.0009],"nice":false},"axis":{"title":null,"labels":false}}},
 "layer":[
  {"data":{"name":"bars"},"transform":[{"filter":"datum.p=='f'"}],"layer":[
   {"mark":"bar","encoding":{"xOffset":{"field":"g","type":"nominal","scale":{"domain":["Marine","Freshwater","Terrestrial"]}},"color":{"field":"g","type":"nominal","scale":{"domain":["Marine","Freshwater","Terrestrial"],"range":["#3a6db2","#4f9f7a","#e2972c"]},"legend":null}}},
   {"mark":"rule","encoding":{"xOffset":{"field":"g","type":"nominal","scale":{"domain":["Marine","Freshwater","Terrestrial"]}},"y":{"field":"lo","type":"quantitative","scale":{"domain":[0,0.0009],"nice":false},"axis":{"title":null,"labels":false}},"y2":{"field":"hi"}}}
  ]},
  {"data":{"name":"sig"},"transform":[{"filter":"datum.p=='f'"}],"layer":[
   {"transform":[{"fold":["a","b"],"as":["end","grp"]}],"mark":"line","encoding":{"xOffset":{"field":"grp","type":"nominal","scale":{"domain":["Marine","Freshwater","Terrestrial"]}},"detail":[{"field":"gene"},{"field":"a"},{"field":"b"}]}},
   {"transform":[{"filter":"datum.b=='Freshwater'"}],"mark":"text","encoding":{"x":{"field":"gene","type":"nominal","bandPosition":0.33,"scale":{"domain":["hoxH","hoxY","hoxE","hoxF","hoxU"]},"axis":{"title":"Bidirectional hydrogenases","titleX":105}},"text":{"field":"n"},"color":{"field":"c","type":"nominal","scale":{"domain":["Marine","Freshwater","Terrestrial"],"range":["#3a6db2","#4f9f7a","#e2972c"]},"legend":null}}},
   {"transform":[{"filter":"datum.a=='Freshwater'"}],"mark":"text","encoding":{"x":{"field":"gene","type":"nominal","bandPosition":0.67,"scale":{"domain":["hoxH","hoxY","hoxE","hoxF","hoxU"]},"axis":{"title":"Bidirectional hydrogenases","titleX":105}},"text":{"field":"n"},"color":{"field":"c","type":"nominal","scale":{"domain":["Marine","Freshwater","Terrestrial"],"range":["#3a6db2","#4f9f7a","#e2972c"]},"legend":null}}},
   {"transform":[{"filter":"datum.a=='Marine' && datum.b=='Terrestrial'"}],"mark":"text","encoding":{"text":{"field":"n"},"color":{"field":"c","type":"nominal","scale":{"domain":["Marine","Freshwater","Terrestrial"],"range":["#3a6db2","#4f9f7a","#e2972c"]},"legend":null}}}
  ]}
 ]},
{"width":59,"height":165,"title":{"text":"(g)"},
 "encoding":{"x":{"field":"gene","type":"nominal","scale":{"domain":["PFOR"]},"axis":{"title":null}},
  "y":{"field":"y","type":"quantitative","scale":{"domain":[0,0.0009],"nice":false},"axis":{"title":null,"labels":false}}},
 "layer":[
  {"data":{"name":"bars"},"transform":[{"filter":"datum.p=='g'"}],"layer":[
   {"mark":"bar","encoding":{"xOffset":{"field":"g","type":"nominal","scale":{"domain":["Marine","Freshwater","Terrestrial"]}},"color":{"field":"g","type":"nominal","scale":{"domain":["Marine","Freshwater","Terrestrial"],"range":["#3a6db2","#4f9f7a","#e2972c"]},"legend":null}}},
   {"mark":"rule","encoding":{"xOffset":{"field":"g","type":"nominal","scale":{"domain":["Marine","Freshwater","Terrestrial"]}},"y":{"field":"lo","type":"quantitative","scale":{"domain":[0,0.0009],"nice":false},"axis":{"title":null,"labels":false}},"y2":{"field":"hi"}}}
  ]},
  {"data":{"name":"sig"},"transform":[{"filter":"datum.p=='g'"}],"layer":[
   {"transform":[{"fold":["a","b"],"as":["end","grp"]}],"mark":"line","encoding":{"xOffset":{"field":"grp","type":"nominal","scale":{"domain":["Marine","Freshwater","Terrestrial"]}},"detail":[{"field":"gene"},{"field":"a"},{"field":"b"}]}},
   {"transform":[{"filter":"datum.b=='Freshwater'"}],"mark":"text","encoding":{"x":{"field":"gene","type":"nominal","bandPosition":0.33,"scale":{"domain":["PFOR"]},"axis":{"title":null}},"text":{"field":"n"},"color":{"field":"c","type":"nominal","scale":{"domain":["Marine","Freshwater","Terrestrial"],"range":["#3a6db2","#4f9f7a","#e2972c"]},"legend":null}}},
   {"transform":[{"filter":"datum.a=='Freshwater'"}],"mark":"text","encoding":{"x":{"field":"gene","type":"nominal","bandPosition":0.67,"scale":{"domain":["PFOR"]},"axis":{"title":null}},"text":{"field":"n"},"color":{"field":"c","type":"nominal","scale":{"domain":["Marine","Freshwater","Terrestrial"],"range":["#3a6db2","#4f9f7a","#e2972c"]},"legend":null}}},
   {"transform":[{"filter":"datum.a=='Marine' && datum.b=='Terrestrial'"}],"mark":"text","encoding":{"text":{"field":"n"},"color":{"field":"c","type":"nominal","scale":{"domain":["Marine","Freshwater","Terrestrial"],"range":["#3a6db2","#4f9f7a","#e2972c"]},"legend":null}}}
  ]}
 ]},
{"width":195,"height":165,"title":{"text":"(h)"},
 "encoding":{"x":{"field":"gene","type":"nominal","scale":{"domain":["gvpA","gvpC","gvpL/F","gvpK"]},"axis":{"title":"Gas vesicle synthesis","titleX":107}},
  "y":{"field":"y","type":"quantitative","scale":{"domain":[0,0.0009],"nice":false},"axis":{"title":null,"labels":false}}},
 "layer":[
  {"data":{"name":"bars"},"transform":[{"filter":"datum.p=='h'"}],"layer":[
   {"mark":"bar","encoding":{"xOffset":{"field":"g","type":"nominal","scale":{"domain":["Marine","Freshwater","Terrestrial"]}},"color":{"field":"g","type":"nominal","scale":{"domain":["Marine","Freshwater","Terrestrial"],"range":["#3a6db2","#4f9f7a","#e2972c"]},"legend":null}}},
   {"mark":"rule","encoding":{"xOffset":{"field":"g","type":"nominal","scale":{"domain":["Marine","Freshwater","Terrestrial"]}},"y":{"field":"lo","type":"quantitative","scale":{"domain":[0,0.0009],"nice":false},"axis":{"title":null,"labels":false}},"y2":{"field":"hi"}}}
  ]},
  {"data":{"name":"sig"},"transform":[{"filter":"datum.p=='h'"}],"layer":[
   {"transform":[{"fold":["a","b"],"as":["end","grp"]}],"mark":"line","encoding":{"xOffset":{"field":"grp","type":"nominal","scale":{"domain":["Marine","Freshwater","Terrestrial"]}},"detail":[{"field":"gene"},{"field":"a"},{"field":"b"}]}},
   {"transform":[{"filter":"datum.b=='Freshwater'"}],"mark":"text","encoding":{"x":{"field":"gene","type":"nominal","bandPosition":0.33,"scale":{"domain":["gvpA","gvpC","gvpL/F","gvpK"]},"axis":{"title":"Gas vesicle synthesis","titleX":107}},"text":{"field":"n"},"color":{"field":"c","type":"nominal","scale":{"domain":["Marine","Freshwater","Terrestrial"],"range":["#3a6db2","#4f9f7a","#e2972c"]},"legend":null}}},
   {"transform":[{"filter":"datum.a=='Freshwater'"}],"mark":"text","encoding":{"x":{"field":"gene","type":"nominal","bandPosition":0.67,"scale":{"domain":["gvpA","gvpC","gvpL/F","gvpK"]},"axis":{"title":"Gas vesicle synthesis","titleX":107}},"text":{"field":"n"},"color":{"field":"c","type":"nominal","scale":{"domain":["Marine","Freshwater","Terrestrial"],"range":["#3a6db2","#4f9f7a","#e2972c"]},"legend":null}}},
   {"transform":[{"filter":"datum.a=='Marine' && datum.b=='Terrestrial'"}],"mark":"text","encoding":{"text":{"field":"n"},"color":{"field":"c","type":"nominal","scale":{"domain":["Marine","Freshwater","Terrestrial"],"range":["#3a6db2","#4f9f7a","#e2972c"]},"legend":null}}}
  ]}
 ]}
],"spacing":8,"bounds":"flush","resolve":{"legend":{"color":"independent"}}},
{"hconcat":[
{"width":58,"height":165,"title":{"text":"(i)"},
 "encoding":{"x":{"field":"gene","type":"nominal","scale":{"domain":["arsB"]},"axis":{"title":null}},
  "y":{"field":"y","type":"quantitative","scale":{"domain":[0,0.0009],"nice":false},"axis":{"title":"Fraction of genes","format":".4f"}}},
 "layer":[
  {"data":{"name":"bars"},"transform":[{"filter":"datum.p=='i'"}],"layer":[
   {"mark":"bar","encoding":{"xOffset":{"field":"g","type":"nominal","scale":{"domain":["Marine","Freshwater","Terrestrial"]}},"color":{"field":"g","type":"nominal","scale":{"domain":["Marine","Freshwater","Terrestrial"],"range":["#3a6db2","#4f9f7a","#e2972c"]},"legend":null}}},
   {"mark":"rule","encoding":{"xOffset":{"field":"g","type":"nominal","scale":{"domain":["Marine","Freshwater","Terrestrial"]}},"y":{"field":"lo","type":"quantitative","scale":{"domain":[0,0.0009],"nice":false},"axis":{"title":"Fraction of genes","format":".4f"}},"y2":{"field":"hi"}}}
  ]},
  {"data":{"name":"sig"},"transform":[{"filter":"datum.p=='i'"}],"layer":[
   {"transform":[{"fold":["a","b"],"as":["end","grp"]}],"mark":"line","encoding":{"xOffset":{"field":"grp","type":"nominal","scale":{"domain":["Marine","Freshwater","Terrestrial"]}},"detail":[{"field":"gene"},{"field":"a"},{"field":"b"}]}},
   {"transform":[{"filter":"datum.b=='Freshwater'"}],"mark":"text","encoding":{"x":{"field":"gene","type":"nominal","bandPosition":0.33,"scale":{"domain":["arsB"]},"axis":{"title":null}},"text":{"field":"n"},"color":{"field":"c","type":"nominal","scale":{"domain":["Marine","Freshwater","Terrestrial"],"range":["#3a6db2","#4f9f7a","#e2972c"]},"legend":null}}},
   {"transform":[{"filter":"datum.a=='Freshwater'"}],"mark":"text","encoding":{"x":{"field":"gene","type":"nominal","bandPosition":0.67,"scale":{"domain":["arsB"]},"axis":{"title":null}},"text":{"field":"n"},"color":{"field":"c","type":"nominal","scale":{"domain":["Marine","Freshwater","Terrestrial"],"range":["#3a6db2","#4f9f7a","#e2972c"]},"legend":null}}},
   {"transform":[{"filter":"datum.a=='Marine' && datum.b=='Terrestrial'"}],"mark":"text","encoding":{"text":{"field":"n"},"color":{"field":"c","type":"nominal","scale":{"domain":["Marine","Freshwater","Terrestrial"],"range":["#3a6db2","#4f9f7a","#e2972c"]},"legend":null}}}
  ]}
 ]},
{"width":271,"height":165,"title":{"text":"(j)"},
 "encoding":{"x":{"field":"gene","type":"nominal","scale":{"domain":["treZ","treY","sucrose synthase"]},"axis":{"title":"Compatible solutes"}},
  "y":{"field":"y","type":"quantitative","scale":{"domain":[0,0.0009],"nice":false},"axis":{"title":null,"labels":false}}},
 "layer":[
  {"data":{"name":"bars"},"transform":[{"filter":"datum.p=='j'"}],"layer":[
   {"mark":"bar","encoding":{"xOffset":{"field":"g","type":"nominal","scale":{"domain":["Marine","Freshwater","Terrestrial"]}},"color":{"field":"g","type":"nominal","scale":{"domain":["Marine","Freshwater","Terrestrial"],"range":["#3a6db2","#4f9f7a","#e2972c"]},"legend":null}}},
   {"mark":"rule","encoding":{"xOffset":{"field":"g","type":"nominal","scale":{"domain":["Marine","Freshwater","Terrestrial"]}},"y":{"field":"lo","type":"quantitative","scale":{"domain":[0,0.0009],"nice":false},"axis":{"title":null,"labels":false}},"y2":{"field":"hi"}}}
  ]},
  {"data":{"name":"sig"},"transform":[{"filter":"datum.p=='j'"}],"layer":[
   {"transform":[{"fold":["a","b"],"as":["end","grp"]}],"mark":"line","encoding":{"xOffset":{"field":"grp","type":"nominal","scale":{"domain":["Marine","Freshwater","Terrestrial"]}},"detail":[{"field":"gene"},{"field":"a"},{"field":"b"}]}},
   {"transform":[{"filter":"datum.b=='Freshwater'"}],"mark":"text","encoding":{"x":{"field":"gene","type":"nominal","bandPosition":0.33,"scale":{"domain":["treZ","treY","sucrose synthase"]},"axis":{"title":"Compatible solutes"}},"text":{"field":"n"},"color":{"field":"c","type":"nominal","scale":{"domain":["Marine","Freshwater","Terrestrial"],"range":["#3a6db2","#4f9f7a","#e2972c"]},"legend":null}}},
   {"transform":[{"filter":"datum.a=='Freshwater'"}],"mark":"text","encoding":{"x":{"field":"gene","type":"nominal","bandPosition":0.67,"scale":{"domain":["treZ","treY","sucrose synthase"]},"axis":{"title":"Compatible solutes"}},"text":{"field":"n"},"color":{"field":"c","type":"nominal","scale":{"domain":["Marine","Freshwater","Terrestrial"],"range":["#3a6db2","#4f9f7a","#e2972c"]},"legend":null}}},
   {"transform":[{"filter":"datum.a=='Marine' && datum.b=='Terrestrial'"}],"mark":"text","encoding":{"text":{"field":"n"},"color":{"field":"c","type":"nominal","scale":{"domain":["Marine","Freshwater","Terrestrial"],"range":["#3a6db2","#4f9f7a","#e2972c"]},"legend":null}}}
  ]}
 ]},
{"width":254,"height":165,"title":{"text":"(k)"},
 "encoding":{"x":{"field":"gene","type":"nominal","scale":{"domain":["opuC","opuBD","opuA"]},"axis":{"title":"Osmoprotectant transport system"}},
  "y":{"field":"y","type":"quantitative","scale":{"domain":[0,0.0009],"nice":false},"axis":{"title":null,"labels":false}}},
 "layer":[
  {"data":{"name":"bars"},"transform":[{"filter":"datum.p=='k'"}],"layer":[
   {"mark":"bar","encoding":{"xOffset":{"field":"g","type":"nominal","scale":{"domain":["Marine","Freshwater","Terrestrial"]}},"color":{"field":"g","type":"nominal","scale":{"domain":["Marine","Freshwater","Terrestrial"],"range":["#3a6db2","#4f9f7a","#e2972c"]},"legend":null}}},
   {"mark":"rule","encoding":{"xOffset":{"field":"g","type":"nominal","scale":{"domain":["Marine","Freshwater","Terrestrial"]}},"y":{"field":"lo","type":"quantitative","scale":{"domain":[0,0.0009],"nice":false},"axis":{"title":null,"labels":false}},"y2":{"field":"hi"}}}
  ]},
  {"data":{"name":"sig"},"transform":[{"filter":"datum.p=='k'"}],"layer":[
   {"transform":[{"fold":["a","b"],"as":["end","grp"]}],"mark":"line","encoding":{"xOffset":{"field":"grp","type":"nominal","scale":{"domain":["Marine","Freshwater","Terrestrial"]}},"detail":[{"field":"gene"},{"field":"a"},{"field":"b"}]}},
   {"transform":[{"filter":"datum.b=='Freshwater'"}],"mark":"text","encoding":{"x":{"field":"gene","type":"nominal","bandPosition":0.33,"scale":{"domain":["opuC","opuBD","opuA"]},"axis":{"title":"Osmoprotectant transport system"}},"text":{"field":"n"},"color":{"field":"c","type":"nominal","scale":{"domain":["Marine","Freshwater","Terrestrial"],"range":["#3a6db2","#4f9f7a","#e2972c"]},"legend":null}}},
   {"transform":[{"filter":"datum.a=='Freshwater'"}],"mark":"text","encoding":{"x":{"field":"gene","type":"nominal","bandPosition":0.67,"scale":{"domain":["opuC","opuBD","opuA"]},"axis":{"title":"Osmoprotectant transport system"}},"text":{"field":"n"},"color":{"field":"c","type":"nominal","scale":{"domain":["Marine","Freshwater","Terrestrial"],"range":["#3a6db2","#4f9f7a","#e2972c"]},"legend":null}}},
   {"transform":[{"filter":"datum.a=='Marine' && datum.b=='Terrestrial'"}],"mark":"text","encoding":{"text":{"field":"n"},"color":{"field":"c","type":"nominal","scale":{"domain":["Marine","Freshwater","Terrestrial"],"range":["#3a6db2","#4f9f7a","#e2972c"]},"legend":null}}}
  ]}
 ]},
{"width":128,"height":165,"title":{"text":"(l)"},
 "encoding":{"x":{"field":"gene","type":"nominal","scale":{"domain":["oxidoreductase","catalase"]},"axis":{"title":"Antioxidant","titleX":68}},
  "y":{"field":"y","type":"quantitative","scale":{"domain":[0,0.0009],"nice":false},"axis":{"title":null,"labels":false}}},
 "layer":[
  {"data":{"name":"bars"},"transform":[{"filter":"datum.p=='l'"}],"layer":[
   {"mark":"bar","encoding":{"xOffset":{"field":"g","type":"nominal","scale":{"domain":["Marine","Freshwater","Terrestrial"]}},"color":{"field":"g","type":"nominal","scale":{"domain":["Marine","Freshwater","Terrestrial"],"range":["#3a6db2","#4f9f7a","#e2972c"]},"legend":null}}},
   {"mark":"rule","encoding":{"xOffset":{"field":"g","type":"nominal","scale":{"domain":["Marine","Freshwater","Terrestrial"]}},"y":{"field":"lo","type":"quantitative","scale":{"domain":[0,0.0009],"nice":false},"axis":{"title":null,"labels":false}},"y2":{"field":"hi"}}}
  ]},
  {"data":{"name":"sig"},"transform":[{"filter":"datum.p=='l'"}],"layer":[
   {"transform":[{"fold":["a","b"],"as":["end","grp"]}],"mark":"line","encoding":{"xOffset":{"field":"grp","type":"nominal","scale":{"domain":["Marine","Freshwater","Terrestrial"]}},"detail":[{"field":"gene"},{"field":"a"},{"field":"b"}]}},
   {"transform":[{"filter":"datum.b=='Freshwater'"}],"mark":"text","encoding":{"x":{"field":"gene","type":"nominal","bandPosition":0.33,"scale":{"domain":["oxidoreductase","catalase"]},"axis":{"title":"Antioxidant","titleX":68}},"text":{"field":"n"},"color":{"field":"c","type":"nominal","scale":{"domain":["Marine","Freshwater","Terrestrial"],"range":["#3a6db2","#4f9f7a","#e2972c"]},"legend":null}}},
   {"transform":[{"filter":"datum.a=='Freshwater'"}],"mark":"text","encoding":{"x":{"field":"gene","type":"nominal","bandPosition":0.67,"scale":{"domain":["oxidoreductase","catalase"]},"axis":{"title":"Antioxidant","titleX":68}},"text":{"field":"n"},"color":{"field":"c","type":"nominal","scale":{"domain":["Marine","Freshwater","Terrestrial"],"range":["#3a6db2","#4f9f7a","#e2972c"]},"legend":null}}},
   {"transform":[{"filter":"datum.a=='Marine' && datum.b=='Terrestrial'"}],"mark":"text","encoding":{"text":{"field":"n"},"color":{"field":"c","type":"nominal","scale":{"domain":["Marine","Freshwater","Terrestrial"],"range":["#3a6db2","#4f9f7a","#e2972c"]},"legend":null}}}
  ]}
 ]}
],"spacing":8,"bounds":"flush","resolve":{"legend":{"color":"independent"}}}
],"spacing":10,"resolve":{"legend":{"color":"independent"}}},
{"hconcat":[
{"width":58,"height":165,"title":{"text":"(m)"},
 "encoding":{"x":{"field":"gene","type":"nominal","scale":{"domain":["uvdE"]},"axis":{"title":null}},
  "y":{"field":"y","type":"quantitative","scale":{"domain":[0,0.0009],"nice":false},"axis":{"title":"Fraction of genes","format":".4f"}}},
 "layer":[
  {"data":{"name":"bars"},"transform":[{"filter":"datum.p=='m'"}],"layer":[
   {"mark":"bar","encoding":{"xOffset":{"field":"g","type":"nominal","scale":{"domain":["Marine","Freshwater","Terrestrial"]}},"color":{"field":"g","type":"nominal","scale":{"domain":["Marine","Freshwater","Terrestrial"],"range":["#3a6db2","#4f9f7a","#e2972c"]},"legend":null}}},
   {"mark":"rule","encoding":{"xOffset":{"field":"g","type":"nominal","scale":{"domain":["Marine","Freshwater","Terrestrial"]}},"y":{"field":"lo","type":"quantitative","scale":{"domain":[0,0.0009],"nice":false},"axis":{"title":"Fraction of genes","format":".4f"}},"y2":{"field":"hi"}}}
  ]},
  {"data":{"name":"sig"},"transform":[{"filter":"datum.p=='m'"}],"layer":[
   {"transform":[{"fold":["a","b"],"as":["end","grp"]}],"mark":"line","encoding":{"xOffset":{"field":"grp","type":"nominal","scale":{"domain":["Marine","Freshwater","Terrestrial"]}},"detail":[{"field":"gene"},{"field":"a"},{"field":"b"}]}},
   {"transform":[{"filter":"datum.b=='Freshwater'"}],"mark":"text","encoding":{"x":{"field":"gene","type":"nominal","bandPosition":0.33,"scale":{"domain":["uvdE"]},"axis":{"title":null}},"text":{"field":"n"},"color":{"field":"c","type":"nominal","scale":{"domain":["Marine","Freshwater","Terrestrial"],"range":["#3a6db2","#4f9f7a","#e2972c"]},"legend":null}}},
   {"transform":[{"filter":"datum.a=='Freshwater'"}],"mark":"text","encoding":{"x":{"field":"gene","type":"nominal","bandPosition":0.67,"scale":{"domain":["uvdE"]},"axis":{"title":null}},"text":{"field":"n"},"color":{"field":"c","type":"nominal","scale":{"domain":["Marine","Freshwater","Terrestrial"],"range":["#3a6db2","#4f9f7a","#e2972c"]},"legend":null}}},
   {"transform":[{"filter":"datum.a=='Marine' && datum.b=='Terrestrial'"}],"mark":"text","encoding":{"text":{"field":"n"},"color":{"field":"c","type":"nominal","scale":{"domain":["Marine","Freshwater","Terrestrial"],"range":["#3a6db2","#4f9f7a","#e2972c"]},"legend":null}}}
  ]}
 ]},
{"width":271,"height":165,"title":{"text":"(n)"},
 "encoding":{"x":{"field":"gene","type":"nominal","scale":{"domain":["cheA","cheB","cheW","cheR"]},"axis":{"title":"Chemotaxis regulatory system","titleX":140}},
  "y":{"field":"y","type":"quantitative","scale":{"domain":[0,0.0009],"nice":false},"axis":{"title":null,"labels":false}}},
 "layer":[
  {"data":{"name":"bars"},"transform":[{"filter":"datum.p=='n'"}],"layer":[
   {"mark":"bar","encoding":{"xOffset":{"field":"g","type":"nominal","scale":{"domain":["Marine","Freshwater","Terrestrial"]}},"color":{"field":"g","type":"nominal","scale":{"domain":["Marine","Freshwater","Terrestrial"],"range":["#3a6db2","#4f9f7a","#e2972c"]},"legend":null}}},
   {"mark":"rule","encoding":{"xOffset":{"field":"g","type":"nominal","scale":{"domain":["Marine","Freshwater","Terrestrial"]}},"y":{"field":"lo","type":"quantitative","scale":{"domain":[0,0.0009],"nice":false},"axis":{"title":null,"labels":false}},"y2":{"field":"hi"}}}
  ]},
  {"data":{"name":"sig"},"transform":[{"filter":"datum.p=='n'"}],"layer":[
   {"transform":[{"fold":["a","b"],"as":["end","grp"]}],"mark":"line","encoding":{"xOffset":{"field":"grp","type":"nominal","scale":{"domain":["Marine","Freshwater","Terrestrial"]}},"detail":[{"field":"gene"},{"field":"a"},{"field":"b"}]}},
   {"transform":[{"filter":"datum.b=='Freshwater'"}],"mark":"text","encoding":{"x":{"field":"gene","type":"nominal","bandPosition":0.33,"scale":{"domain":["cheA","cheB","cheW","cheR"]},"axis":{"title":"Chemotaxis regulatory system","titleX":140}},"text":{"field":"n"},"color":{"field":"c","type":"nominal","scale":{"domain":["Marine","Freshwater","Terrestrial"],"range":["#3a6db2","#4f9f7a","#e2972c"]},"legend":null}}},
   {"transform":[{"filter":"datum.a=='Freshwater'"}],"mark":"text","encoding":{"x":{"field":"gene","type":"nominal","bandPosition":0.67,"scale":{"domain":["cheA","cheB","cheW","cheR"]},"axis":{"title":"Chemotaxis regulatory system","titleX":140}},"text":{"field":"n"},"color":{"field":"c","type":"nominal","scale":{"domain":["Marine","Freshwater","Terrestrial"],"range":["#3a6db2","#4f9f7a","#e2972c"]},"legend":null}}},
   {"transform":[{"filter":"datum.a=='Marine' && datum.b=='Terrestrial'"}],"mark":"text","encoding":{"text":{"field":"n"},"color":{"field":"c","type":"nominal","scale":{"domain":["Marine","Freshwater","Terrestrial"],"range":["#3a6db2","#4f9f7a","#e2972c"]},"legend":null}}}
  ]}
 ]},
{"width":188,"height":165,"title":{"text":"(o)"},
 "encoding":{"x":{"field":"gene","type":"nominal","scale":{"domain":["potA","potB","potD"]},"axis":{"title":["Spermidine/putrescine transport","system"]}},
  "y":{"field":"y","type":"quantitative","scale":{"domain":[0,0.0009],"nice":false},"axis":{"title":null,"labels":false}}},
 "layer":[
  {"data":{"name":"bars"},"transform":[{"filter":"datum.p=='o'"}],"layer":[
   {"mark":"bar","encoding":{"xOffset":{"field":"g","type":"nominal","scale":{"domain":["Marine","Freshwater","Terrestrial"]}},"color":{"field":"g","type":"nominal","scale":{"domain":["Marine","Freshwater","Terrestrial"],"range":["#3a6db2","#4f9f7a","#e2972c"]},"legend":null}}},
   {"mark":"rule","encoding":{"xOffset":{"field":"g","type":"nominal","scale":{"domain":["Marine","Freshwater","Terrestrial"]}},"y":{"field":"lo","type":"quantitative","scale":{"domain":[0,0.0009],"nice":false},"axis":{"title":null,"labels":false}},"y2":{"field":"hi"}}}
  ]},
  {"data":{"name":"sig"},"transform":[{"filter":"datum.p=='o'"}],"layer":[
   {"transform":[{"fold":["a","b"],"as":["end","grp"]}],"mark":"line","encoding":{"xOffset":{"field":"grp","type":"nominal","scale":{"domain":["Marine","Freshwater","Terrestrial"]}},"detail":[{"field":"gene"},{"field":"a"},{"field":"b"}]}},
   {"transform":[{"filter":"datum.b=='Freshwater'"}],"mark":"text","encoding":{"x":{"field":"gene","type":"nominal","bandPosition":0.33,"scale":{"domain":["potA","potB","potD"]},"axis":{"title":["Spermidine/putrescine transport","system"]}},"text":{"field":"n"},"color":{"field":"c","type":"nominal","scale":{"domain":["Marine","Freshwater","Terrestrial"],"range":["#3a6db2","#4f9f7a","#e2972c"]},"legend":null}}},
   {"transform":[{"filter":"datum.a=='Freshwater'"}],"mark":"text","encoding":{"x":{"field":"gene","type":"nominal","bandPosition":0.67,"scale":{"domain":["potA","potB","potD"]},"axis":{"title":["Spermidine/putrescine transport","system"]}},"text":{"field":"n"},"color":{"field":"c","type":"nominal","scale":{"domain":["Marine","Freshwater","Terrestrial"],"range":["#3a6db2","#4f9f7a","#e2972c"]},"legend":null}}},
   {"transform":[{"filter":"datum.a=='Marine' && datum.b=='Terrestrial'"}],"mark":"text","encoding":{"text":{"field":"n"},"color":{"field":"c","type":"nominal","scale":{"domain":["Marine","Freshwater","Terrestrial"],"range":["#3a6db2","#4f9f7a","#e2972c"]},"legend":null}}}
  ]}
 ]},
{"width":194,"height":165,"title":{"text":"(p)"},
 "encoding":{"x":{"field":"gene","type":"nominal","scale":{"domain":["ironTA","ironTP","ironTS"]},"axis":{"title":"Iron complex transport system"}},
  "y":{"field":"y","type":"quantitative","scale":{"domain":[0,0.0009],"nice":false},"axis":{"title":null,"labels":false}}},
 "layer":[
  {"data":{"name":"bars"},"transform":[{"filter":"datum.p=='p'"}],"layer":[
   {"mark":"bar","encoding":{"xOffset":{"field":"g","type":"nominal","scale":{"domain":["Marine","Freshwater","Terrestrial"]}},"color":{"field":"g","type":"nominal","scale":{"domain":["Marine","Freshwater","Terrestrial"],"range":["#3a6db2","#4f9f7a","#e2972c"]},"legend":null}}},
   {"mark":"rule","encoding":{"xOffset":{"field":"g","type":"nominal","scale":{"domain":["Marine","Freshwater","Terrestrial"]}},"y":{"field":"lo","type":"quantitative","scale":{"domain":[0,0.0009],"nice":false},"axis":{"title":null,"labels":false}},"y2":{"field":"hi"}}}
  ]},
  {"data":{"name":"sig"},"transform":[{"filter":"datum.p=='p'"}],"layer":[
   {"transform":[{"fold":["a","b"],"as":["end","grp"]}],"mark":"line","encoding":{"xOffset":{"field":"grp","type":"nominal","scale":{"domain":["Marine","Freshwater","Terrestrial"]}},"detail":[{"field":"gene"},{"field":"a"},{"field":"b"}]}},
   {"transform":[{"filter":"datum.b=='Freshwater'"}],"mark":"text","encoding":{"x":{"field":"gene","type":"nominal","bandPosition":0.33,"scale":{"domain":["ironTA","ironTP","ironTS"]},"axis":{"title":"Iron complex transport system"}},"text":{"field":"n"},"color":{"field":"c","type":"nominal","scale":{"domain":["Marine","Freshwater","Terrestrial"],"range":["#3a6db2","#4f9f7a","#e2972c"]},"legend":null}}},
   {"transform":[{"filter":"datum.a=='Freshwater'"}],"mark":"text","encoding":{"x":{"field":"gene","type":"nominal","bandPosition":0.67,"scale":{"domain":["ironTA","ironTP","ironTS"]},"axis":{"title":"Iron complex transport system"}},"text":{"field":"n"},"color":{"field":"c","type":"nominal","scale":{"domain":["Marine","Freshwater","Terrestrial"],"range":["#3a6db2","#4f9f7a","#e2972c"]},"legend":null}}},
   {"transform":[{"filter":"datum.a=='Marine' && datum.b=='Terrestrial'"}],"mark":"text","encoding":{"text":{"field":"n"},"color":{"field":"c","type":"nominal","scale":{"domain":["Marine","Freshwater","Terrestrial"],"range":["#3a6db2","#4f9f7a","#e2972c"]},"legend":null}}}
  ]}
 ]}
],"spacing":8,"bounds":"flush","resolve":{"legend":{"color":"independent"}}}
]
}
